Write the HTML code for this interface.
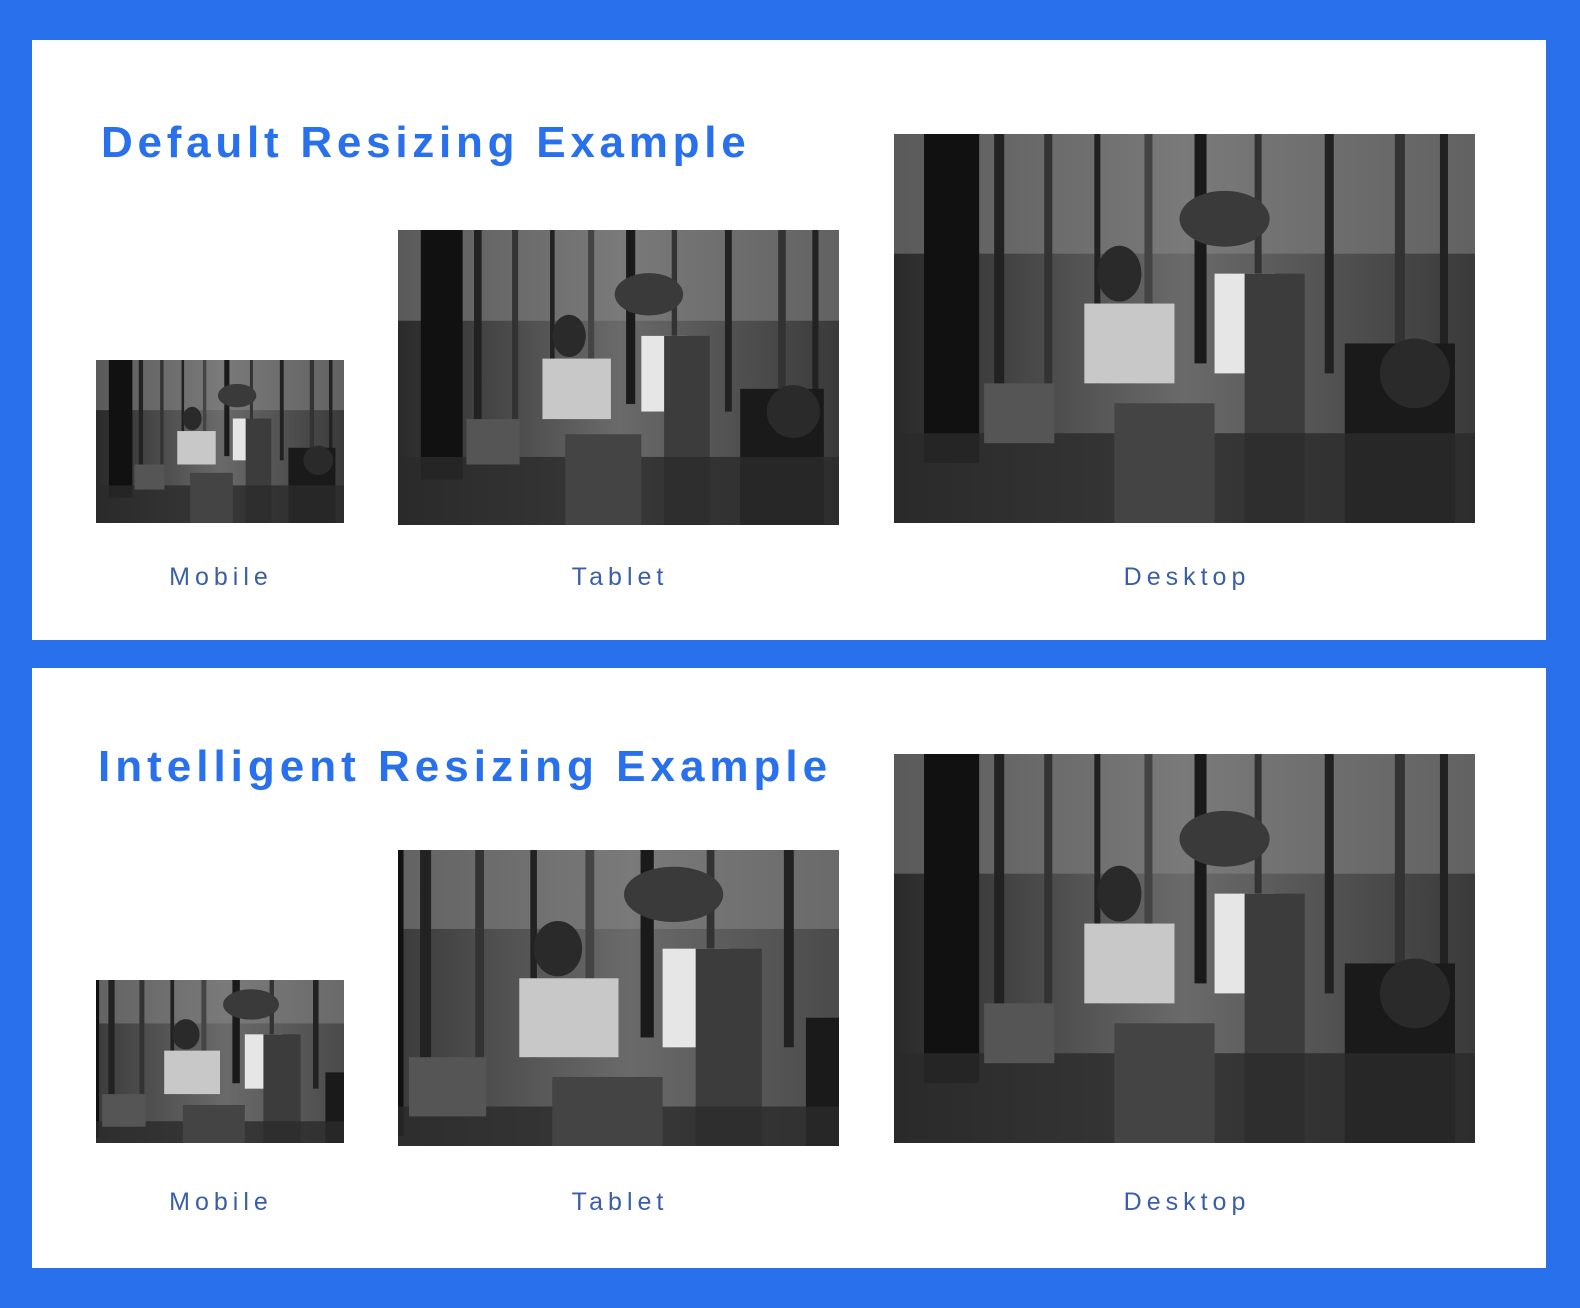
<!DOCTYPE html>
<html><head><meta charset="utf-8"><style>
html,body{margin:0;padding:0}
body{width:1580px;height:1308px;background:#2970ec;position:relative;overflow:hidden;font-family:"Liberation Sans",sans-serif}
.panel{position:absolute;left:32px;width:1514px;background:#fff}
.title{position:absolute;color:#2970ec;font-size:44px;font-weight:bold;letter-spacing:5.3px;white-space:nowrap;line-height:1}
.lbl{position:absolute;color:#3a5fa8;font-size:25px;letter-spacing:5px;transform:translateX(-50%);white-space:nowrap;line-height:1}
svg.ph{position:absolute;display:block}
</style></head><body>
<svg width="0" height="0" style="position:absolute">
<defs>
<linearGradient id="g1" x1="0" x2="1"><stop offset="0" stop-color="#2a2a2a"/><stop offset="0.5" stop-color="#6a6a6a"/><stop offset="1" stop-color="#3a3a3a"/></linearGradient>
<symbol id="photo" viewBox="0 0 580 390" preserveAspectRatio="none">
<rect width="580" height="390" fill="url(#g1)"/>
<rect x="0" y="0" width="580" height="120" fill="#8a8a8a" opacity="0.5"/>
<rect x="30" y="0" width="55" height="330" fill="#111"/>
<rect x="100" y="0" width="10" height="300" fill="#222"/>
<rect x="150" y="0" width="8" height="260" fill="#333"/>
<rect x="200" y="0" width="6" height="250" fill="#222"/>
<rect x="250" y="0" width="8" height="200" fill="#444"/>
<rect x="300" y="0" width="12" height="230" fill="#1a1a1a"/>
<rect x="360" y="0" width="7" height="220" fill="#333"/>
<rect x="430" y="0" width="9" height="240" fill="#222"/>
<rect x="500" y="0" width="10" height="260" fill="#333"/>
<rect x="545" y="0" width="8" height="250" fill="#222"/>
<ellipse cx="225" cy="140" rx="22" ry="28" fill="#2a2a2a"/>
<rect x="190" y="170" width="90" height="80" fill="#c8c8c8"/>
<ellipse cx="330" cy="85" rx="45" ry="28" fill="#3a3a3a"/>
<rect x="320" y="140" width="60" height="100" fill="#e6e6e6"/>
<rect x="350" y="140" width="60" height="250" fill="#3c3c3c"/>
<rect x="450" y="210" width="110" height="180" fill="#1a1a1a"/>
<circle cx="520" cy="240" r="35" fill="#2a2a2a"/>
<rect x="0" y="300" width="580" height="90" fill="#2a2a2a" opacity="0.8"/>
<rect x="220" y="270" width="100" height="120" fill="#444"/>
<rect x="90" y="250" width="70" height="60" fill="#555"/>
</symbol>
<symbol id="photo2" viewBox="80 40 400 300" preserveAspectRatio="none">
<use href="#photo" x="0" y="0" width="580" height="390"/>
</symbol>
</defs></svg>

<div class="panel" style="top:40px;height:600px"></div>
<div class="panel" style="top:668px;height:600px"></div>

<div class="title" style="left:101px;top:121px;letter-spacing:4.75px">Default Resizing Example</div>
<svg class="ph" style="left:96px;top:360px" width="248" height="163"><use href="#photo" width="248" height="163"/></svg>
<svg class="ph" style="left:398px;top:230px" width="441" height="295"><use href="#photo" width="441" height="295"/></svg>
<svg class="ph" style="left:894px;top:134px" width="581" height="389"><use href="#photo" width="581" height="389"/></svg>
<div class="lbl" style="left:221px;top:565px">Mobile</div>
<div class="lbl" style="left:620px;top:565px">Tablet</div>
<div class="lbl" style="left:1187px;top:565px">Desktop</div>

<div class="title" style="left:98px;top:745px;letter-spacing:5px">Intelligent Resizing Example</div>
<svg class="ph" style="left:96px;top:980px" width="248" height="163"><use href="#photo2" width="248" height="163"/></svg>
<svg class="ph" style="left:398px;top:850px" width="441" height="296"><use href="#photo2" width="441" height="296"/></svg>
<svg class="ph" style="left:894px;top:754px" width="581" height="389"><use href="#photo" width="581" height="389"/></svg>
<div class="lbl" style="left:221px;top:1190px">Mobile</div>
<div class="lbl" style="left:620px;top:1190px">Tablet</div>
<div class="lbl" style="left:1187px;top:1190px">Desktop</div>
</body></html>
